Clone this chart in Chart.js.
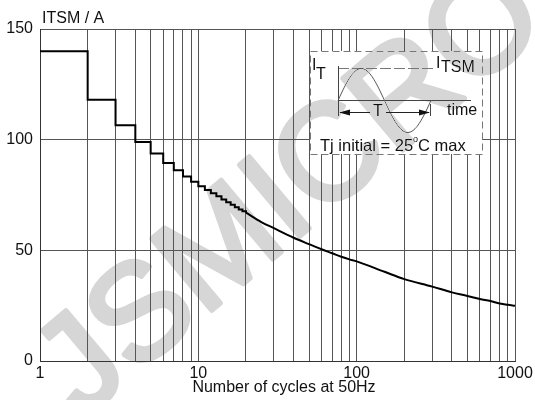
<!DOCTYPE html>
<html>
<head>
<meta charset="utf-8">
<script src="https://cdn.jsdelivr.net/npm/chart.js@4/dist/chart.umd.min.js"></script>
<style>
  html, body { margin: 0; padding: 0; background: #fff; }
  .wrap { width: 535px; height: 400px; position: relative; }
</style>
</head>
<body>
<div class="wrap"><canvas id="myChart"></canvas></div>
<script>
// surge current vs number of cycles
const stepCycles = [1, 2, 3, 4, 5, 6, 7, 8, 9, 10, 11, 12, 13, 14, 15, 16, 17, 18, 19, 20];
const stepValues = [140, 118, 106.5, 99, 93.7, 89.5, 86.2, 83.4, 81, 79, 77.3, 75.8, 74.4, 73, 71.7, 70.6, 69.5, 68.5, 67.7, 67];
const curveCycles = [20, 25, 30, 40, 50, 60, 70, 80, 90, 100, 150, 200, 300, 400, 500, 600, 700, 800, 900, 1000];
const curveValues = [67, 62.8, 60, 55.7, 52.8, 50.5, 48.7, 47.1, 45.9, 45, 40.3, 37, 33.6, 31, 29.4, 28, 27.1, 26, 25.4, 25];
const xTicks = [1, 2, 3, 4, 5, 6, 7, 8, 9, 10, 20, 30, 40, 50, 60, 70, 80, 90, 100, 200, 300, 400, 500, 600, 700, 800, 900, 1000];
const xLabels = [1, 10, 100, 1000];
const yTicks = [0, 50, 100, 150];

const FONT = 'Liberation Sans, Arial, sans-serif';

const extras = {
  id: 'extras',
  afterDraw(chart) {
    const c = chart.ctx;
    c.save();
    c.font = '16px ' + FONT;
    c.fillStyle = '#111';
    c.textBaseline = 'middle';
    c.textAlign = 'left';
    c.fillText('ITSM / A', 42, 19);
    c.textAlign = 'center';
    c.fillText('Number of cycles at 50Hz', 284, 388);

    // inset with the test waveform
    c.fillStyle = '#fff';
    c.fillRect(310, 51, 172, 103);
    c.strokeStyle = '#777';
    c.lineWidth = 1;
    c.setLineDash([7, 4]);
    c.strokeRect(310.5, 51.5, 172, 103);
    c.setLineDash([11, 3]);
    c.beginPath();
    c.moveTo(338, 68.5); c.lineTo(436, 68.5);
    c.stroke();
    c.setLineDash([]);
    c.strokeStyle = '#444';
    c.beginPath();
    c.moveTo(338, 100.5); c.lineTo(471, 100.5);
    c.moveTo(338.5, 66); c.lineTo(338.5, 116);
    c.moveTo(430.5, 104); c.lineTo(430.5, 116);
    c.stroke();
    c.strokeStyle = '#555';
    c.beginPath();
    for (let i = 0; i <= 93; i++) {
      const px = 338 + i;
      const py = 100.5 - 32 * Math.sin(2 * Math.PI * i / 93);
      if (i === 0) c.moveTo(px, py); else c.lineTo(px, py);
    }
    c.stroke();
    // T arrow
    c.strokeStyle = '#222';
    c.beginPath();
    c.moveTo(340, 112.5); c.lineTo(370, 112.5);
    c.moveTo(386, 112.5); c.lineTo(429, 112.5);
    c.stroke();
    c.fillStyle = '#111';
    c.beginPath();
    c.moveTo(339, 112.5); c.lineTo(350, 109.5); c.lineTo(350, 115.5); c.closePath();
    c.moveTo(430, 112.5); c.lineTo(419, 109.5); c.lineTo(419, 115.5); c.closePath();
    c.fill();
    c.textAlign = 'center';
    c.fillText('T', 378, 112);
    c.textAlign = 'left';
    c.fillText('time', 447, 111);
    c.fillText('I', 312, 66);
    c.fillText('T', 316, 75);
    c.fillText('I', 436, 64);
    c.fillText('TSM', 441, 68);
    c.font = '16.5px ' + FONT;
    const head = 'Tj initial = 25';
    c.fillText(head, 320, 146);
    const hx = 320 + c.measureText(head).width;
    c.font = '9px ' + FONT;
    c.fillText('o', hx, 140);
    c.font = '16.5px ' + FONT;
    c.fillText('C max', hx + 5, 146);

    // watermark
    c.globalCompositeOperation = 'darken';
    c.translate(292, 194);
    c.rotate(-40 * Math.PI / 180);
    c.font = '136px ' + FONT;
    c.textAlign = 'center';
    c.fillStyle = '#d6d6d6';
    c.strokeStyle = '#d6d6d6';
    c.lineWidth = 5;
    c.lineJoin = 'round';
    c.strokeText('JSMICRO', 0, 0);
    c.fillText('JSMICRO', 0, 0);
    c.restore();
  }
};

const ctx = document.getElementById('myChart');
new Chart(ctx, {
  type: 'line',
  data: {
    datasets: [{
      data: stepCycles.map((x, i) => ({ x: x, y: stepValues[i] })),
      borderColor: '#000',
      borderWidth: 2,
      pointRadius: 0,
      stepped: 'before'
    }, {
      data: curveCycles.map((x, i) => ({ x: x, y: curveValues[i] })),
      borderColor: '#000',
      borderWidth: 2,
      pointRadius: 0,
      cubicInterpolationMode: 'monotone'
    }]
  },
  options: {
    responsive: true,
    maintainAspectRatio: false,
    animation: false,
    layout: { padding: { top: 29, right: 20, left: 0, bottom: 0 } },
    plugins: {
      legend: { display: false },
      tooltip: { enabled: false }
    },
    scales: {
      x: {
        type: 'logarithmic',
        min: 1,
        max: 1000,
        afterBuildTicks: scale => { scale.ticks = xTicks.map(v => ({ value: v })); },
        afterFit: scale => { scale.height = 39; scale.paddingLeft = 0; scale.paddingRight = 0; },
        grid: { color: '#555', lineWidth: 1, drawTicks: false },
        border: { color: '#333' },
        ticks: {
          autoSkip: false,
          maxRotation: 0,
          padding: 3,
          color: '#111',
          font: { family: FONT, size: 16 },
          callback: v => xLabels.includes(v) ? String(v) : ''
        }
      },
      y: {
        min: 0,
        max: 150,
        afterBuildTicks: scale => { scale.ticks = yTicks.map(v => ({ value: v })); },
        afterFit: scale => { scale.width = 40; },
        grid: { color: '#555', lineWidth: 1, drawTicks: false },
        border: { color: '#333' },
        ticks: {
          padding: 7,
          color: '#111',
          font: { family: FONT, size: 16 }
        }
      }
    }
  },
  plugins: [extras]
});
</script>
</body>
</html>
